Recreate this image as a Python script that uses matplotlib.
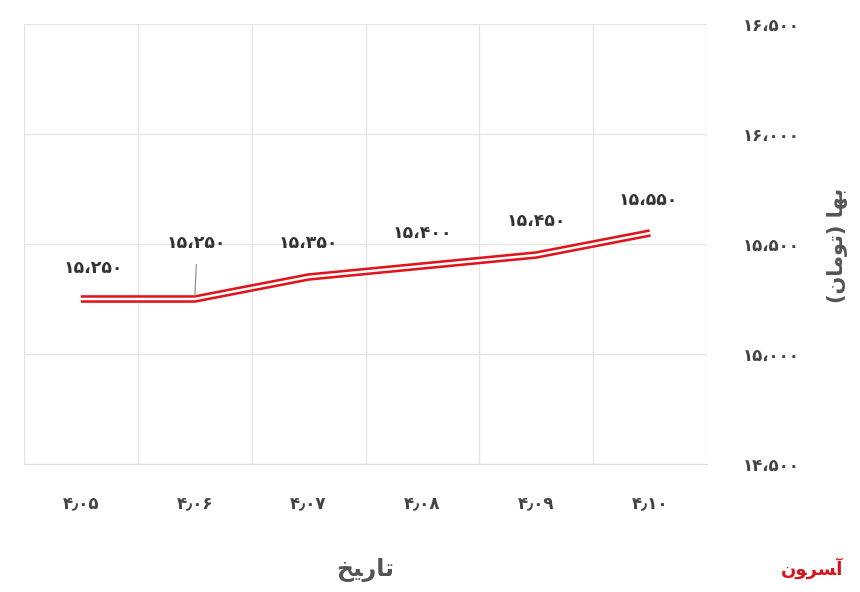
import matplotlib
matplotlib.use("Agg")
import matplotlib.pyplot as plt

categories = ["4.05", "4.06", "4.07", "4.08", "4.09", "4.10"]
prices = [15250, 15250, 15350, 15400, 15450, 15550]
yticks = [14500, 15000, 15500, 16000, 16500]

FA = str.maketrans("0123456789", "۰۱۲۳۴۵۶۷۸۹")
def fa_num(v):
    return f"{v:,}".replace(",", "،").translate(FA)
def fa_cat(c):
    return c.replace(".", "٫").translate(FA)

plt.rcParams['font.family'] = ['DejaVu Sans']
fig = plt.figure(figsize=(8.6, 5.92), dpi=100)
ax = fig.add_axes([24/860, 1-464/592, (707-24)/860, (464-24)/592])
x = list(range(len(categories)))
ax.plot(x, prices, color="#e0151b", lw=5.5, solid_joinstyle="round", solid_capstyle="butt", zorder=3)
ax.plot(x, prices, color="white", lw=1.8, solid_joinstyle="round", solid_capstyle="butt", zorder=4)
ax.set_xlim(-0.5, len(categories)-0.5)
ax.set_ylim(14500, 16500)
ax.set_yticks(yticks)
ax.set_yticklabels([fa_num(v) for v in yticks], fontsize=12, color="#444", fontweight="bold")
ax.yaxis.tick_right()
ax.set_xticks(x)
ax.set_xticklabels([fa_cat(c) for c in categories], fontsize=12, color="#444", fontweight="bold")
ax.set_xticks([i-0.5 for i in range(len(categories)+1)], minor=True)
ax.grid(False)
ax.grid(True, which="minor", axis="x", color="#e6e6e6", lw=1)
ax.grid(True, which="major", axis="y", color="#e6e6e6", lw=1)
ax.tick_params(axis="both", which="both", length=0)
ax.tick_params(axis="y", pad=26)
ax.tick_params(axis="x", pad=22)
for s in ax.spines.values():
    s.set_visible(False)
ax.spines["bottom"].set_visible(True)
ax.spines["bottom"].set_color("#dddddd")

offsets = [(12, 31), (2, 56), (0, 34), (0, 33), (0, 34), (-2, 33)]
for i, (v, (dx, dy)) in enumerate(zip(prices, offsets)):
    ax.annotate(fa_num(v), (i, v), xytext=(dx, dy), textcoords="offset pixels",
                ha="center", va="center", fontsize=12.5, fontweight="bold", color="#333", zorder=5)
ax.annotate("", (1, prices[1]), xytext=(1 + 0.015, prices[1] + 0.17*1000),
            arrowprops=dict(arrowstyle="-", color="#888", lw=0.8))

fig.text(365/860, 1-570/592, "\uFEA6\uFEF4\uFEAD\uFE8E\uFE97", ha="center", va="center",
         fontsize=17, color="#555", fontweight="bold")
fig.text(838/860, 1-245/592, "(\uFEE5\uFE8E\uFEE3\uFEEE\uFE97) \uFE8E\uFEEC\uFE91",
         rotation=90, ha="center", va="center", fontsize=15, color="#555", fontweight="bold")
fig.text(812/860, 1-568/592, "\uFEE5\uFEEE\uFEAE\uFEB4\uFE81", ha="center", va="center",
         fontsize=13, color="#d9141b", fontweight="bold")
fig.savefig("out.png", dpi=100)
